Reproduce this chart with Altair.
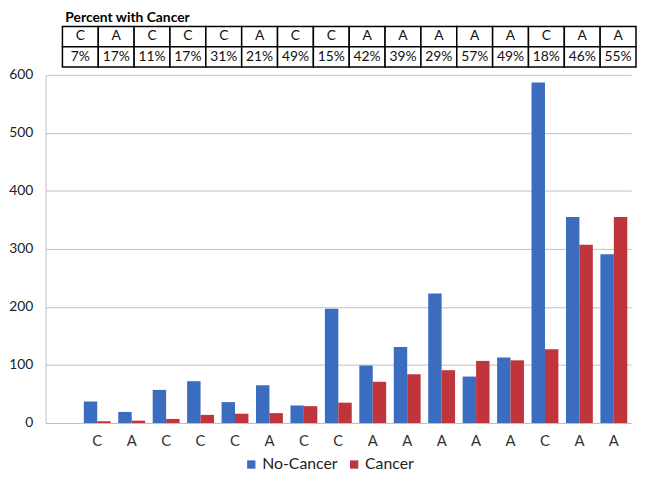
import altair as alt
import pandas as pd

# ---- data ----
types = ["C", "A", "C", "C", "C", "A", "C", "C", "A", "A", "A", "A", "A", "C", "A", "A"]
pct_labels = ["7%", "17%", "11%", "17%", "31%", "21%", "49%", "15%",
              "42%", "39%", "29%", "57%", "49%", "18%", "46%", "55%"]
no_cancer = [37, 19, 57, 72, 36, 65, 30, 197, 99, 131, 223, 80, 113, 587, 355, 291]
cancer = [3, 4, 7, 14, 16, 17, 29, 35, 71, 84, 91, 107, 108, 127, 307, 355]
series = ["No-Cancer", "Cancer"]
colors = ["#3A6CBF", "#C0353C"]
y_ticks = [0, 100, 200, 300, 400, 500, 600]

FONT = "Lato"
n = len(types)

# ---- bar data ----
rows = []
for i in range(n):
    rows.append({"slot": i + 1, "series": "No-Cancer", "value": no_cancer[i]})
    rows.append({"slot": i + 1, "series": "Cancer", "value": cancer[i]})
bars_df = pd.DataFrame(rows)

slot_domain = list(range(0, n + 1))  # first slot left empty, as in the reference
label_arr = "[" + ",".join(["''"] + ["'%s'" % t for t in types]) + "]"

bars = alt.Chart(bars_df).mark_bar().encode(
    x=alt.X("slot:O",
            scale=alt.Scale(domain=slot_domain, paddingInner=0.22, paddingOuter=0.11),
            axis=alt.Axis(title=None, labelExpr=label_arr + "[datum.value]",
                          labelAngle=0, ticks=False, domain=True, domainColor="#BFBFBF",
                          labelFont=FONT, labelFontSize=15, labelColor="#333333",
                          labelPadding=11)),
    xOffset=alt.XOffset("series:N", scale=alt.Scale(domain=series)),
    y=alt.Y("value:Q",
            scale=alt.Scale(domain=[0, 600], nice=False),
            axis=alt.Axis(title=None, values=y_ticks, ticks=False, domain=True,
                          domainColor="#BFBFBF", gridColor="#BFBFBF", gridWidth=1,
                          labelFont=FONT, labelFontSize=14, labelColor="#222222",
                          labelPadding=13)),
    color=alt.Color("series:N",
                    scale=alt.Scale(domain=series, range=colors),
                    legend=alt.Legend(title=None, orient="none", direction="horizontal",
                                      legendX=200, legendY=435,
                                      symbolType="square", symbolSize=70,
                                      labelFont=FONT, labelFontSize=16,
                                      labelColor="#222222", columnPadding=8,
                                      labelOffset=3)),
).properties(width=592, height=352)

# ---- table data ----
trows = []
for i in range(n):
    trows.append({"col": i, "col_end": i + 1, "mid": i + 0.5, "row": "type", "text": types[i]})
    trows.append({"col": i, "col_end": i + 1, "mid": i + 0.5, "row": "pct", "text": pct_labels[i]})
table_df = pd.DataFrame(trows)

tx = alt.Scale(domain=[-0.47, n], nice=False, zero=False)
ty = alt.Scale(domain=["type", "pct"], paddingInner=0, paddingOuter=0)

cells = alt.Chart(table_df).mark_rect(fill="white", stroke="black", strokeWidth=1.5).encode(
    x=alt.X("col:Q", scale=tx, axis=None),
    x2="col_end:Q",
    y=alt.Y("row:N", scale=ty, axis=None),
)
texts = alt.Chart(table_df).mark_text(font=FONT, fontSize=14, color="#111111").encode(
    x=alt.X("mid:Q", scale=tx, axis=None),
    y=alt.Y("row:N", scale=ty, axis=None),
    text="text:N",
)
table = alt.layer(cells, texts).properties(
    width=597, height=41,
    title=alt.TitleParams("Percent with Cancer", anchor="start", dx=20, offset=1,
                          font=FONT, fontSize=14, fontWeight="bold", color="#000000"),
)

chart = alt.vconcat(table, bars, spacing=0).properties(
    padding={"left": 0, "top": 0, "right": 0, "bottom": 0},
    background="white",
).configure_view(stroke=None)

chart.save("out.html", embed_options={"renderer": "svg", "actions": False})
